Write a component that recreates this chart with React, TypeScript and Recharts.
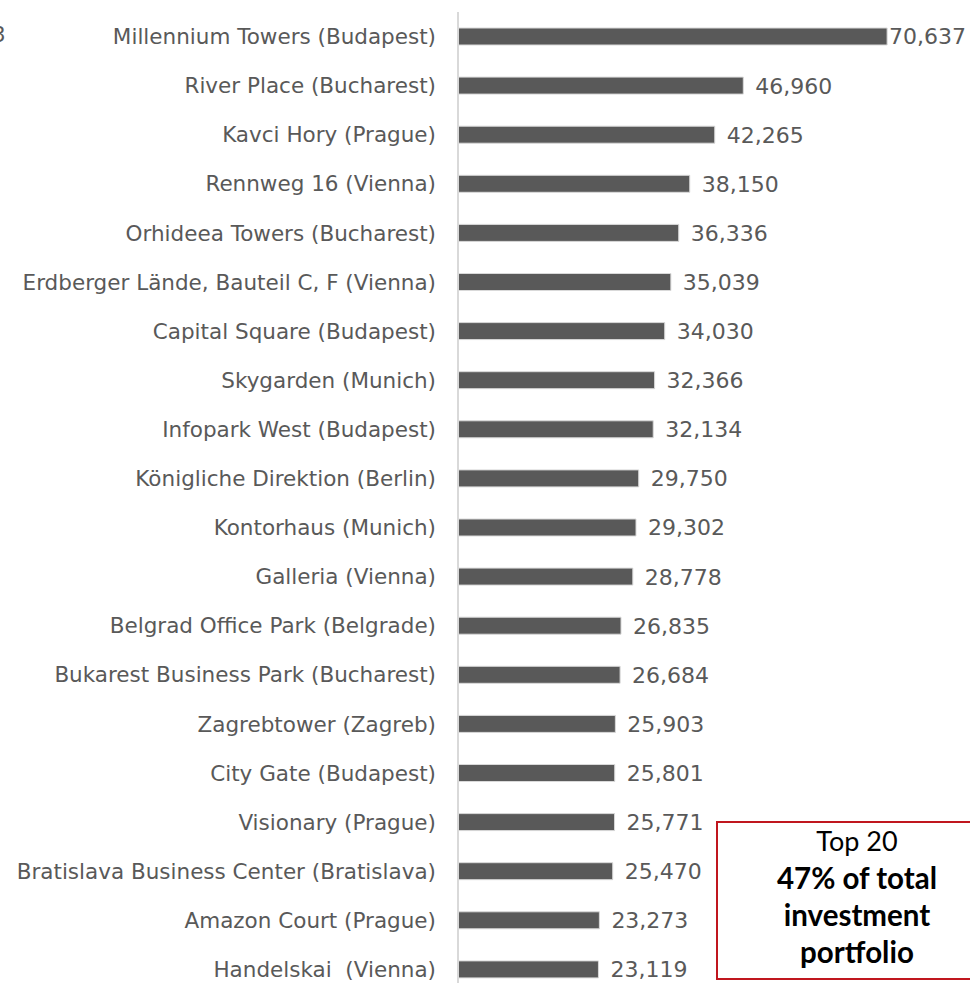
import React from "react";
import { BarChart, Bar, XAxis, YAxis, LabelList } from "recharts";

const properties = [
  "Millennium Towers (Budapest)",
  "River Place (Bucharest)",
  "Kavci Hory (Prague)",
  "Rennweg 16 (Vienna)",
  "Orhideea Towers (Bucharest)",
  "Erdberger Lände, Bauteil C, F (Vienna)",
  "Capital Square (Budapest)",
  "Skygarden (Munich)",
  "Infopark West (Budapest)",
  "Königliche Direktion (Berlin)",
  "Kontorhaus (Munich)",
  "Galleria (Vienna)",
  "Belgrad Office Park (Belgrade)",
  "Bukarest Business Park (Bucharest)",
  "Zagrebtower (Zagreb)",
  "City Gate (Budapest)",
  "Visionary (Prague)",
  "Bratislava Business Center (Bratislava)",
  "Amazon Court (Prague)",
  "Handelskai\u00a0 (Vienna)",
];

const values = [
  70637, 46960, 42265, 38150, 36336, 35039, 34030, 32366, 32134, 29750,
  29302, 28778, 26835, 26684, 25903, 25801, 25771, 25470, 23273, 23119,
];

const boxTitle = "Top 20";
const boxLines = ["47% of total", "investment", "portfolio"];

const data = properties.map((name, i) => ({ name, value: values[i] }));

const fmt = (v: number) => v.toLocaleString("en-US");

const FONT = "'DejaVu Sans', Verdana, sans-serif";
const LABEL_FS = 22;

const ValueLabel = (props: any) => {
  const { x, y, width, height, value } = props;
  const text = fmt(value);
  const digits = text.replace(/,/g, "").length;
  const commas = text.length - digits;
  const estW = (digits * 0.636 + commas * 0.318) * LABEL_FS;
  const end = x + width;
  const lx = end + 12 + estW > 968 ? end + 2 : end + 12;
  return (
    <text
      x={lx}
      y={y + height / 2}
      dy="0.36em"
      fill="#595959"
      fontSize={LABEL_FS}
      fontFamily={FONT}
    >
      {text}
    </text>
  );
};

export default function App() {
  return (
    <div
      style={{
        position: "absolute",
        left: 0,
        top: 0,
        width: 970,
        height: 983,
        overflow: "hidden",
        background: "#ffffff",
      }}
    >
      <BarChart
        width={970}
        height={994}
        data={data}
        layout="vertical"
        margin={{ top: 12, right: 26, bottom: 0, left: 0 }}
        barCategoryGap={0}
      >
        <XAxis type="number" domain={[0, 80000]} hide />
        <YAxis
          type="category"
          dataKey="name"
          width={458}
          axisLine={{ stroke: "#d9d9d9", strokeWidth: 2 }}
          tickLine={false}
          tickSize={0}
          tickMargin={22}
          interval={0}
          tick={{
            fill: "#595959",
            fontSize: 21.5,
            fontFamily: FONT,
          }}
        />
        <Bar
          dataKey="value"
          fill="#595959"
          stroke="#d9d9d9"
          strokeWidth={1}
          barSize={17}
          isAnimationActive={false}
        >
          <LabelList dataKey="value" content={<ValueLabel />} />
        </Bar>
      </BarChart>
      <div
        style={{
          position: "absolute",
          left: -8,
          top: 22,
          fontSize: 21.5,
          color: "#595959",
          fontFamily: FONT,
        }}
      >
        3
      </div>
      <div
        style={{
          position: "absolute",
          left: 716,
          top: 821,
          width: 270,
          height: 159,
          border: "2px solid #c0161e",
          boxSizing: "border-box",
          background: "#ffffff",
        }}
      >
        <div
          style={{
            position: "absolute",
            left: 0,
            width: 278,
            top: -1,
            textAlign: "center",
            fontFamily: "Lato, 'Open Sans', sans-serif",
            lineHeight: "37px",
            color: "#000000",
          }}
        >
          <div style={{ fontSize: 27 }}>{boxTitle}</div>
          {boxLines.map((l) => (
            <div key={l} style={{ fontWeight: 700, fontSize: 29.5 }}>
              {l}
            </div>
          ))}
        </div>
      </div>
    </div>
  );
}
